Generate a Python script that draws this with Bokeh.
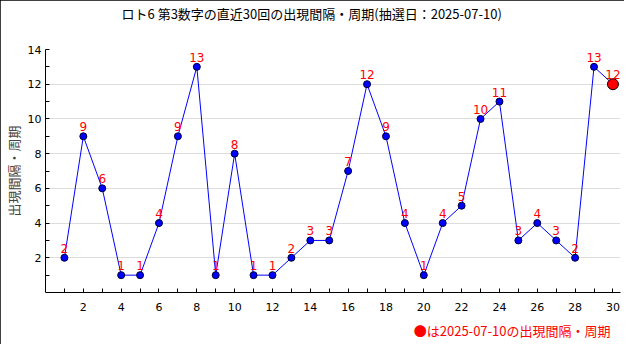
from bokeh.plotting import figure
from bokeh.models import FixedTicker, ColumnDataSource, Title, LabelSet
from bokeh.core.properties import value
from bokeh.embed import file_html
from bokeh.resources import INLINE

draws = list(range(1, 31))
intervals = [2, 9, 6, 1, 1, 4, 9, 13, 1, 8, 1, 1, 2, 3, 3, 7, 12, 9, 4, 1,
             4, 5, 10, 11, 3, 4, 3, 2, 13, 12]
x_major = list(range(2, 31, 2))
x_minor = list(range(1, 30, 2))
y_major = list(range(2, 15, 2))
y_minor = list(range(1, 14, 2))
title_text = "ロト6 第3数字の直近30回の出現間隔・周期(抽選日：2025-07-10)"
y_label = "出現間隔・周期"
note_text = "●は2025-07-10の出現間隔・周期"

JP = "Noto Sans CJK JP"
NUM = "DejaVu Sans"

src = ColumnDataSource(dict(x=draws, y=intervals, lab=[str(v) for v in intervals]))
last = ColumnDataSource(dict(x=draws[-1:], y=intervals[-1:]))

p = figure(width=624, height=344, output_backend="svg", toolbar_location=None,
           x_range=(0, 30.4), y_range=(0, 14),
           min_border_left=34, min_border_right=4, min_border_top=20, min_border_bottom=52)
p.styles = {"outline": "1px solid black", "outline-offset": "-1px"}
p.outline_line_color = None
p.background_fill_color = "white"
p.border_fill_color = "white"

p.title.text = title_text
p.title.align = "left"
p.title.offset = 76
p.title.standoff = 2
p.title.text_font = JP
p.title.text_font_size = "13px"
p.title.text_font_style = "normal"
p.title.text_color = "black"

spacer = Title(text=" ", text_font_size="12px", standoff=10)
p.add_layout(spacer, "above")

note = Title(text=note_text, align="right", text_color="red", text_font=JP,
             text_font_size="13px", text_font_style="normal", offset=10)
p.add_layout(note, "below")

for ax in (p.xaxis[0], p.yaxis[0]):
    ax.major_tick_in = 4
    ax.major_tick_out = 0
    ax.minor_tick_in = 4
    ax.minor_tick_out = 0
    ax.major_label_text_font = NUM
    ax.major_label_text_font_size = "11px"
    ax.major_label_text_color = "black"
    ax.axis_line_color = "black"
    ax.major_tick_line_color = "black"
    ax.minor_tick_line_color = "black"

p.xaxis.ticker = FixedTicker(ticks=x_major, minor_ticks=x_minor)
p.xaxis.major_label_standoff = 10
p.yaxis.ticker = FixedTicker(ticks=y_major, minor_ticks=y_minor)
p.yaxis.major_label_standoff = 4
p.yaxis.axis_label = y_label
p.yaxis.axis_label_text_font = JP
p.yaxis.axis_label_text_font_size = "13px"
p.yaxis.axis_label_text_font_style = "normal"
p.yaxis.axis_label_standoff = 2

p.xgrid.grid_line_color = None
p.ygrid.grid_line_color = "#dddddd"
p.ygrid.ticker = FixedTicker(ticks=y_major)

p.line("x", "y", source=src, line_color="blue", line_width=1)
p.scatter("x", "y", source=src, size=7, fill_color="blue", line_color="#000033")
p.scatter("x", "y", source=last, size=11, fill_color="red", line_color="black")

labels = LabelSet(x="x", y="y", text="lab", source=src, x_offset=0, y_offset=5,
                  text_align="center", text_baseline="bottom", text_color="red",
                  text_font=value(NUM), text_font_size="12px")
p.add_layout(labels)

open("out.html", "w").write(file_html(p, INLINE))
